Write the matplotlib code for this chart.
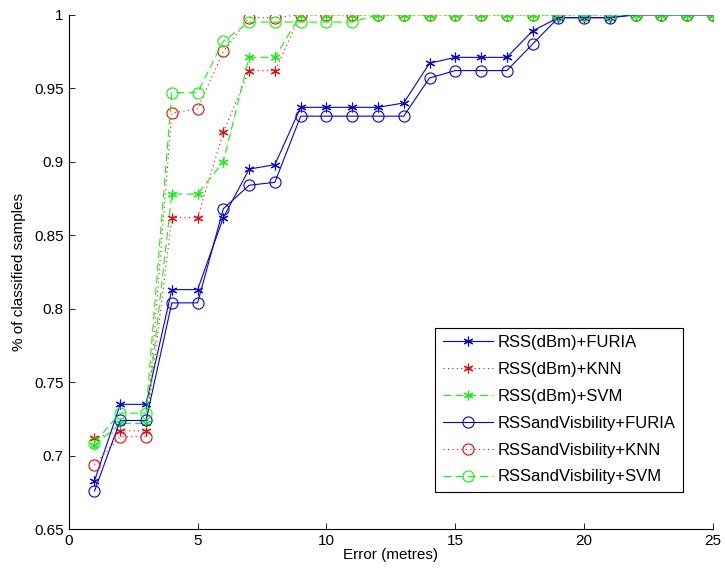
import matplotlib
matplotlib.use("Agg")
import matplotlib.pyplot as plt

plt.rcParams["font.family"] = ["Liberation Sans", "DejaVu Sans"]

# error thresholds (metres)
error_m = list(range(1, 26))

# RSS(dBm) feature set
rss_furia = [0.683, 0.735, 0.735, 0.813, 0.813, 0.862, 0.895, 0.898, 0.937, 0.937,
             0.937, 0.937, 0.940, 0.967, 0.971, 0.971, 0.971, 0.989, 0.998, 0.998,
             0.998, 1.0, 1.0, 1.0, 1.0]
rss_knn = [0.712, 0.717, 0.717, 0.862, 0.862, 0.920, 0.962, 0.962, 1.0, 1.0,
           1.0, 1.0, 1.0, 1.0, 1.0, 1.0, 1.0, 1.0, 1.0, 1.0,
           1.0, 1.0, 1.0, 1.0, 1.0]
rss_svm = [0.707, 0.722, 0.722, 0.878, 0.878, 0.900, 0.971, 0.971, 1.0, 1.0,
           1.0, 1.0, 1.0, 1.0, 1.0, 1.0, 1.0, 1.0, 1.0, 1.0,
           1.0, 1.0, 1.0, 1.0, 1.0]

# RSS and visibility feature set
vis_furia = [0.676, 0.724, 0.724, 0.804, 0.804, 0.868, 0.884, 0.886, 0.931, 0.931,
             0.931, 0.931, 0.931, 0.957, 0.962, 0.962, 0.962, 0.980, 0.998, 0.998,
             0.998, 1.0, 1.0, 1.0, 1.0]
vis_knn = [0.694, 0.713, 0.713, 0.933, 0.936, 0.975, 0.998, 0.998, 1.0, 1.0,
           1.0, 1.0, 1.0, 1.0, 1.0, 1.0, 1.0, 1.0, 1.0, 1.0,
           1.0, 1.0, 1.0, 1.0, 1.0]
vis_svm = [0.709, 0.729, 0.729, 0.947, 0.947, 0.982, 0.995, 0.995, 0.995, 0.995,
           0.995, 1.0, 1.0, 1.0, 1.0, 1.0, 1.0, 1.0, 1.0, 1.0,
           1.0, 1.0, 1.0, 1.0, 1.0]

y_ticks = [0.65, 0.7, 0.75, 0.8, 0.85, 0.9, 0.95, 1.0]
y_tick_labels = ["0.65", "0.7", "0.75", "0.8", "0.85", "0.9", "0.95", "1"]

C_BLUE = "#0000ff"
C_RED = "#ff0000"
C_GREEN = "#00ff00"
STAR = (6, 2, 0)

fig = plt.figure(figsize=(7.25, 5.73), dpi=100)
ax = fig.add_axes([0.0948, 0.0763, 0.8886, 0.898])

series = [
    (rss_furia, C_BLUE, "-", STAR, "RSS(dBm)+FURIA"),
    (rss_knn, C_RED, ":", STAR, "RSS(dBm)+KNN"),
    (rss_svm, C_GREEN, "--", STAR, "RSS(dBm)+SVM"),
    (vis_furia, C_BLUE, "-", "o", "RSSandVisbility+FURIA"),
    (vis_knn, C_RED, ":", "o", "RSSandVisbility+KNN"),
    (vis_svm, C_GREEN, "--", "o", "RSSandVisbility+SVM"),
]
for vals, col, ls, mk, lab in series:
    ms = 8 if mk == "o" else 7
    line, = ax.plot(error_m, vals, color=col, linestyle=ls, linewidth=0.8,
                    marker=mk, markersize=ms, markerfacecolor="none",
                    markeredgecolor=col, markeredgewidth=0.8, label=lab)
    if ls == "--":
        line.set_dashes((7, 4))
    elif ls == ":":
        line.set_dashes((1, 3))

ax.set_xlim(0, 25)
ax.set_ylim(0.65, 1.0)
ax.set_xticks([0, 5, 10, 15, 20, 25])
ax.set_yticks(y_ticks)
ax.set_yticklabels(y_tick_labels)
ax.tick_params(direction="in", labelsize=11, length=4, width=0.6)
for s in ["top", "right"]:
    ax.spines[s].set_visible(False)
for s in ["left", "bottom"]:
    ax.spines[s].set_linewidth(0.8)

ax.set_xlabel("Error (metres)", fontsize=11, labelpad=0)
ax.set_ylabel("% of classified samples", fontsize=11, labelpad=6)

leg = ax.legend(loc="lower right", bbox_to_anchor=(0.9535, 0.0725), fontsize=12,
                handlelength=3.0, handletextpad=0.3, labelspacing=0.71,
                borderpad=0.45, borderaxespad=0,
                fancybox=False, framealpha=1, edgecolor="black", numpoints=1)
leg.get_frame().set_linewidth(0.8)

fig.savefig("out.png", dpi=100)
